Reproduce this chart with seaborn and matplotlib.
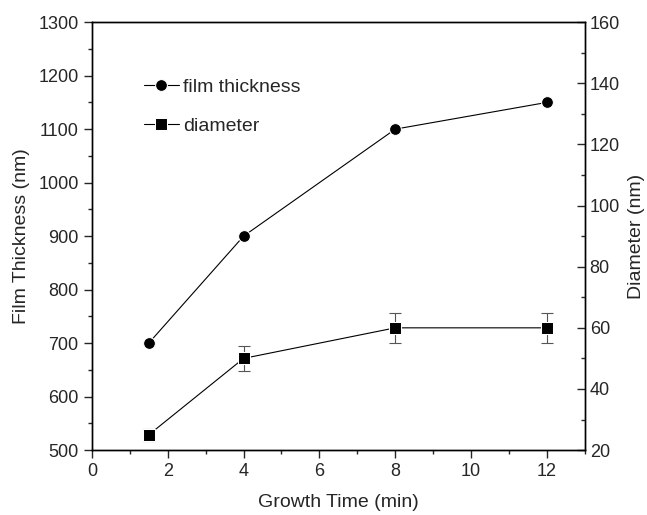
import pandas as pd
import matplotlib.pyplot as plt
import seaborn as sns
from matplotlib.ticker import MultipleLocator

# data
time = [1.5, 4, 8, 12]
thickness = [700, 900, 1100, 1150]
diameter = [25, 50, 60, 60]
diameter_err = [2, 4, 5, 5]

sns.set_style("ticks")
plt.rcParams['font.family'] = ['Liberation Sans', 'DejaVu Sans']

df = pd.DataFrame({'time': time, 'thickness': thickness,
                   'diameter': diameter, 'err': diameter_err})

fig = plt.figure(figsize=(6.47, 5.15), dpi=100)
ax = fig.add_axes([0.142, 0.126, 0.762, 0.831])
ax2 = ax.twinx()

sns.lineplot(data=df, x='time', y='thickness', ax=ax, color='black',
             marker='o', markersize=8.5, linewidth=0.8, label='film thickness',
             legend=False)
ax2.errorbar(df['time'], df['diameter'], yerr=df['err'], fmt='none',
             ecolor='#555555', elinewidth=0.8, capsize=4, capthick=0.8)
sns.lineplot(data=df, x='time', y='diameter', ax=ax2, color='black',
             marker='s', markersize=8.5, linewidth=0.8, label='diameter',
             legend=False)

ax.set_xlim(0, 13)
ax.set_ylim(500, 1300)
ax2.set_ylim(20, 160)
ax.xaxis.set_major_locator(MultipleLocator(2))
ax.xaxis.set_minor_locator(MultipleLocator(1))
ax.yaxis.set_major_locator(MultipleLocator(100))
ax.yaxis.set_minor_locator(MultipleLocator(50))
ax2.yaxis.set_major_locator(MultipleLocator(20))
ax2.yaxis.set_minor_locator(MultipleLocator(10))

ax.tick_params(which='major', length=6, width=1, labelsize=13)
ax.tick_params(which='minor', length=3, width=1)
ax2.tick_params(which='major', length=6, width=1, labelsize=13, direction='in')
ax2.tick_params(which='minor', length=3, width=1, direction='in')

ax.set_xlabel('Growth Time (min)', fontsize=14, labelpad=10)
ax.set_ylabel('Film Thickness (nm)', fontsize=14, labelpad=6)
ax2.set_ylabel('Diameter (nm)', fontsize=14, labelpad=6)

for a in (ax, ax2):
    for s in a.spines.values():
        s.set_linewidth(1)
        s.set_color('black')

h1, l1 = ax.get_legend_handles_labels()
h2, l2 = ax2.get_legend_handles_labels()
ax.legend(h1 + h2, l1 + l2, loc='upper left', bbox_to_anchor=(0.07, 0.91),
          frameon=False, fontsize=14, handlelength=1.8, labelspacing=1.1,
          handletextpad=0.2)

plt.savefig('out.png', dpi=100)
